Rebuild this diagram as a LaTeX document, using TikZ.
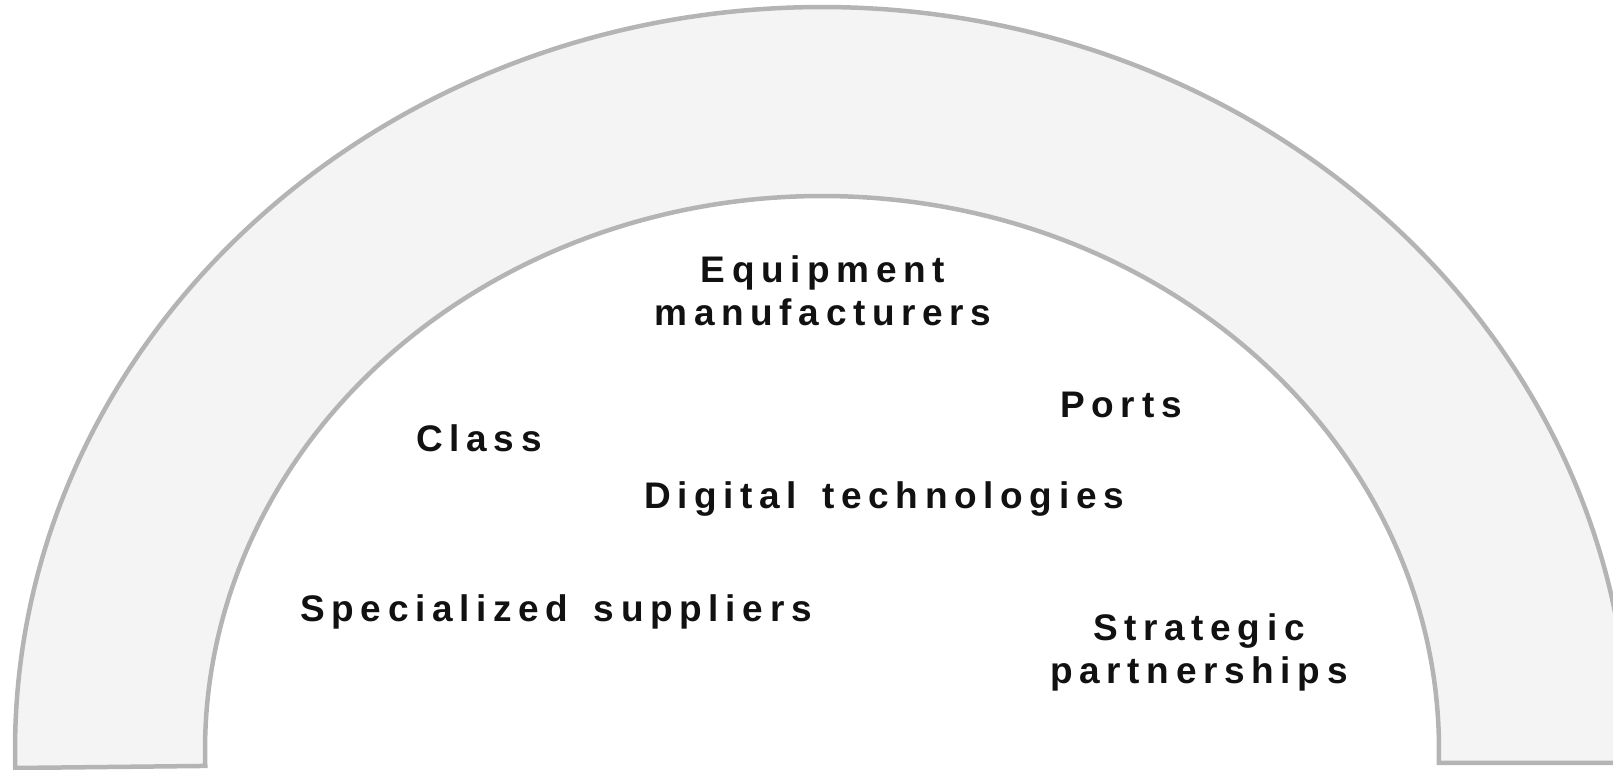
\documentclass[tikz,border=0pt]{standalone}
\usepackage{fontspec}
\setmainfont{Liberation Sans}
\newfontfamily\arcfont[LetterSpace=18,WordSpace=1.5]{Liberation Sans}
\usetikzlibrary{calc}
\definecolor{bandline}{HTML}{B4B4B4}
\definecolor{bandfill}{HTML}{F4F4F4}
\definecolor{labeltext}{HTML}{111111}

\begin{document}
\begin{tikzpicture}[x=1pt,y=1pt,
    band/.style={draw=bandline, fill=bandfill, line width=4.5pt},
    arctext/.style={font=\arcfont\bfseries\fontsize{37}{43}\selectfont, text=labeltext, align=center, inner sep=0pt}]
    \useasboundingbox (0,0) rectangle (1613,770);
    %% the half ring
    \coordinate (centre) at (822,20);
    \coordinate (outerleft) at ($(centre)+(181.39:807pt and 743pt)$);
    \coordinate (innerright) at ($(centre)+(-1.34:617pt and 554pt)$);
    \draw[band] (outerleft) arc[start angle=181.39, end angle=-1, x radius=807pt, y radius=743pt]
        -- (innerright) arc[start angle=-1.34, end angle=181.65, x radius=617pt, y radius=554pt]
        -- cycle;
    %% the labels inside
    \node[arctext] (equip) at (823,479) {Equipment\\manufacturers};
    \node[arctext] (class) at (479,332) {Class};
    \node[arctext] (ports) at (1121,365) {Ports};
    \node[arctext] (digital) at (884,271) {Digital technologies};
    \node[arctext] (suppliers) at (556,158) {Specialized suppliers};
    \node[arctext] (partners) at (1199,118) {Strategic\\partnerships};
\end{tikzpicture}
\end{document}
